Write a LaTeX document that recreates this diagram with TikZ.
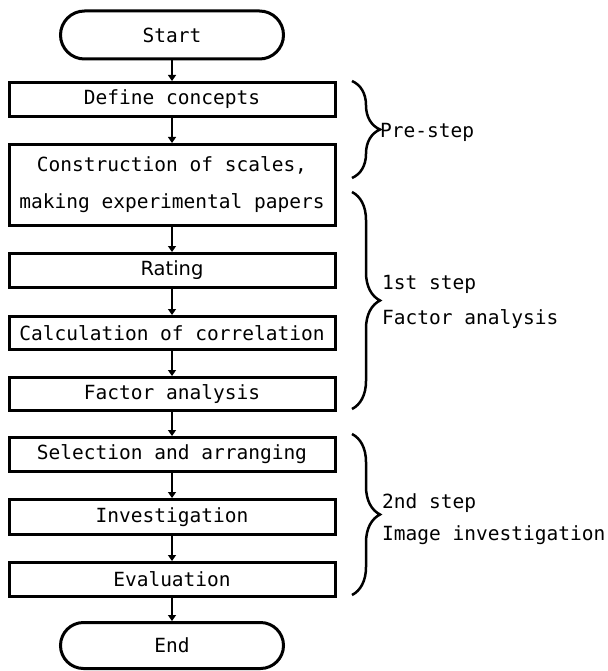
\documentclass[tikz,border=0pt]{standalone}
\usepackage{fontspec}
\newfontfamily\flowfont{DejaVu Sans Mono}
\newfontfamily\plainfont{DejaVu Sans}
\usetikzlibrary{arrows.meta,shapes.misc,decorations.pathreplacing}
\tikzset{
    % flowchart parts
    stepbox/.style={rectangle,draw,line width=3pt,minimum width=326pt,minimum height=34pt,inner sep=0pt,align=center},
    terminal/.style={rounded rectangle,draw,line width=3pt,minimum width=223pt,minimum height=48pt,inner sep=0pt},
    flow/.style={-{Triangle[width=8pt,length=6pt]},line width=1.3pt},
    % phase braces and their labels
    phase/.style={decorate,decoration={brace,amplitude=28pt},line width=2.5pt},
    phaselabel/.style={anchor=west,align=left,inner sep=0pt}
}

\begin{document}
\begin{tikzpicture}[x=1pt,y=-1pt,font={\flowfont\fontsize{19.5pt}{23pt}\selectfont}]
    \useasboundingbox (0,0) rectangle (607,671);
    % Flow column
    \node[terminal] (start) at (172,35) {Start};
    \node[stepbox] (define) at (172,99.5) {Define concepts};
    \node[stepbox,minimum height=81pt,font={\flowfont\fontsize{19.5pt}{37pt}\selectfont}] (scales) at (172,185) {Construction of scales,\\making experimental papers};
    \node[stepbox,font={\plainfont\fontsize{19.5pt}{23pt}\selectfont}] (rating) at (172,270.5) {Rating};
    \node[stepbox,minimum height=33pt] (corr) at (172,333) {Calculation of correlation};
    \node[stepbox,minimum height=33pt] (factor) at (172,394) {Factor analysis};
    \node[stepbox] (select) at (172,454.5) {Selection and arranging};
    \node[stepbox,minimum height=35pt] (invest) at (172,517) {Investigation};
    \node[stepbox] (eval) at (172,579.5) {Evaluation};
    \node[terminal,minimum height=46pt] (end) at (172,645.5) {End};
    % Arrows
    \draw[flow] (start) -- (define);
    \draw[flow] (define) -- (scales);
    \draw[flow] (scales) -- (rating);
    \draw[flow] (rating) -- (corr);
    \draw[flow] (corr) -- (factor);
    \draw[flow] (factor) -- (select);
    \draw[flow] (select) -- (invest);
    \draw[flow] (invest) -- (eval);
    \draw[flow] (eval) -- (end);
    % Braces
    \draw[phase] (352,81) -- (352,178);
    \draw[phase] (352,192) -- (352,409);
    \draw[phase] (352,434) -- (352,595);
    \node[phaselabel] (pre) at (380,132) {Pre-step};
    \node[phaselabel,font={\flowfont\fontsize{19.5pt}{35pt}\selectfont}] (first) at (382,301.5) {1st step\\Factor analysis};
    \node[phaselabel,font={\flowfont\fontsize{19.5pt}{32pt}\selectfont}] (second) at (382,519) {2nd step\\Image investigation};
\end{tikzpicture}
\end{document}
